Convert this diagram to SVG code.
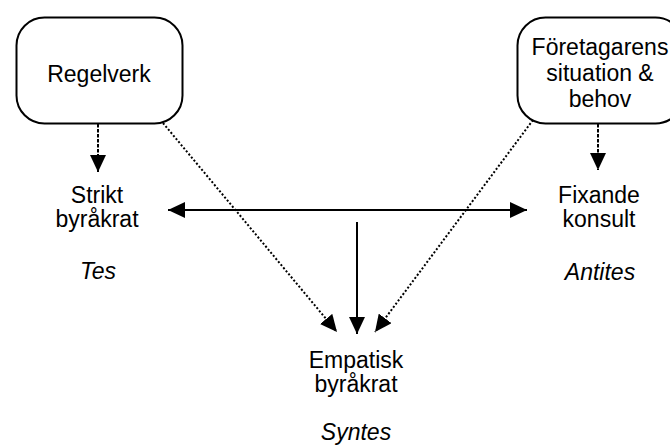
<svg xmlns="http://www.w3.org/2000/svg" width="670" height="446" viewBox="0 0 670 446">
<style>
text{font-family:"Liberation Sans",Arial,sans-serif;font-size:23px;fill:#000;text-anchor:middle}
.it{font-style:italic}
.box{fill:#fff;stroke:#000;stroke-width:2}
.dash{stroke:#000;stroke-width:2;stroke-dasharray:3.5 1.5;fill:none}
.dot{stroke:#000;stroke-width:2;stroke-dasharray:2 2;fill:none}
.solid{stroke:#000;stroke-width:2;fill:none}
</style>
<defs>
<marker id="ah" markerUnits="userSpaceOnUse" markerWidth="17" markerHeight="16" refX="17" refY="8" orient="auto">
<path d="M0,0 L17,8 L0,16 Z" fill="#000"/>
</marker>
<marker id="ahs" markerUnits="userSpaceOnUse" markerWidth="17" markerHeight="16" refX="0" refY="8" orient="auto">
<path d="M17,0 L0,8 L17,16 Z" fill="#000"/>
</marker>
</defs>
<g id="connectors">
<line class="dash" x1="98" y1="124" x2="98" y2="172" marker-end="url(#ah)"/>
<line class="dash" x1="598" y1="124" x2="598" y2="170" marker-end="url(#ah)"/>
<line class="dot" x1="163" y1="123" x2="337" y2="332" marker-end="url(#ah)"/>
<line class="dot" x1="533" y1="120" x2="375" y2="332" marker-end="url(#ah)"/>
<line class="solid" x1="168" y1="210" x2="527" y2="210" marker-start="url(#ahs)" marker-end="url(#ah)"/>
<line class="solid" x1="357" y1="222" x2="357" y2="334" marker-end="url(#ah)"/>
</g>
<g id="regelverk">
<rect class="box" x="16.5" y="17.5" width="166" height="106" rx="28"/>
<text x="99" y="82">Regelverk</text>
</g>
<g id="foretagarens">
<rect class="box" x="517.5" y="17.5" width="166" height="106" rx="28"/>
<text x="600" y="55">Företagarens</text>
<text x="600" y="81">situation &amp;</text>
<text x="600" y="107">behov</text>
</g>
<g id="strikt">
<text x="97" y="203">Strikt</text>
<text x="97" y="227">byråkrat</text>
<text class="it" x="98" y="279">Tes</text>
</g>
<g id="fixande">
<text x="599" y="203">Fixande</text>
<text x="599" y="227">konsult</text>
<text class="it" x="600" y="280">Antites</text>
</g>
<g id="empatisk">
<text x="356" y="368">Empatisk</text>
<text x="356" y="392">byråkrat</text>
<text class="it" x="356" y="440">Syntes</text>
</g>
</svg>
